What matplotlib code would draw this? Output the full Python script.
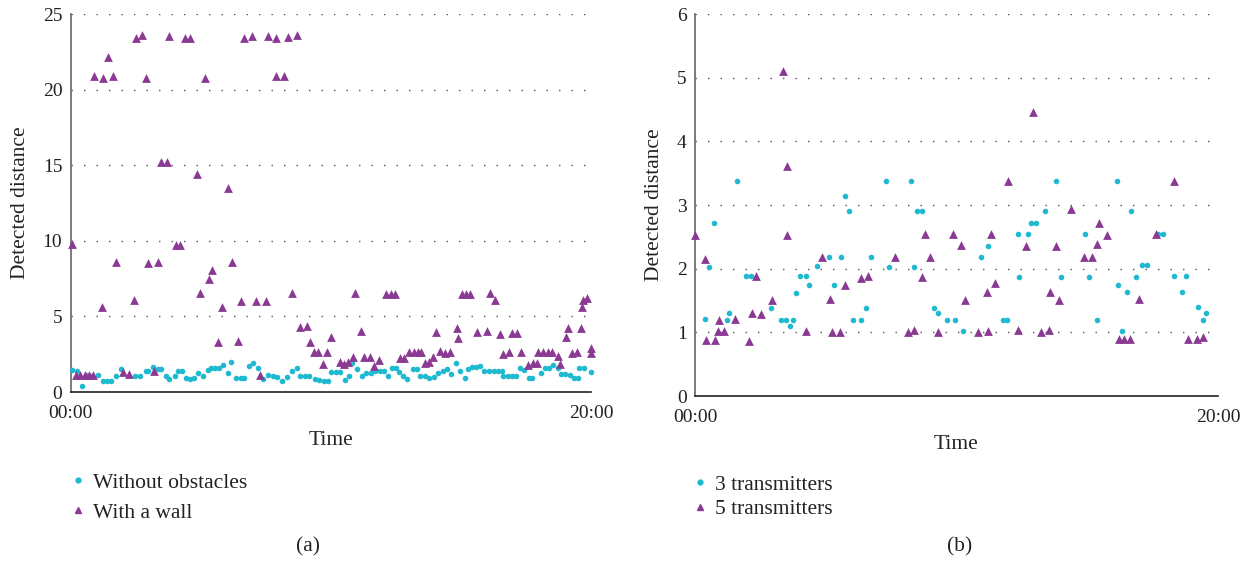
import matplotlib.pyplot as plt
from matplotlib.lines import Line2D

plt.rcParams['font.family'] = ['Liberation Serif', 'DejaVu Serif']

# ---- panel (a): time in minutes, detected distance
a_clear_t = [0.06, 0.23, 0.42, 0.6, 0.8, 1.04, 1.25, 1.38, 1.55, 1.73, 1.92, 2.47, 2.66, 2.88,
             2.98, 3.17, 3.36, 3.49, 3.66, 3.79, 4.0, 4.13, 4.26, 4.43, 4.58, 4.75, 4.9, 5.09,
             5.26, 5.41, 5.54, 5.7, 5.86, 6.05, 6.18, 6.37, 6.53, 6.66, 6.86, 7.01, 7.2, 7.39,
             7.58, 7.78, 7.94, 8.12, 8.33, 8.51, 8.7, 8.8, 8.99, 9.16, 9.38, 9.54, 9.73, 9.9,
             10.02, 10.21, 10.34, 10.53, 10.7, 10.83, 11.02, 11.19, 11.36, 11.53, 11.7, 11.87,
             12.03, 12.19, 12.35, 12.51, 12.6, 12.77, 12.94, 13.15, 13.31, 13.44, 13.6, 13.77,
             13.95, 14.11, 14.3, 14.46, 14.63, 14.79, 14.97, 15.14, 15.26, 15.43, 15.59, 15.74,
             15.9, 16.07, 16.25, 16.42, 16.58, 16.63, 16.8, 16.97, 17.12, 17.27, 17.41, 17.6,
             17.73, 18.08, 18.21, 18.37, 18.53, 18.72, 18.85, 19.01, 19.17, 19.36, 19.51, 19.55,
             19.74, 20.0]
a_clear_d = [1.46, 1.39, 0.42, 1.1, 1.05, 1.13, 0.73, 0.73, 0.73, 1.08, 1.5, 1.08, 1.08, 1.39,
             1.39, 1.63, 1.52, 1.52, 1.08, 0.86, 1.08, 1.37, 1.37, 0.93, 0.84, 0.93, 1.24, 1.08,
             1.46, 1.57, 1.61, 1.61, 1.79, 1.24, 1.97, 0.93, 0.93, 0.93, 1.72, 1.9, 1.61, 0.86,
             1.13, 1.06, 0.97, 0.73, 0.97, 1.39, 1.61, 1.08, 1.08, 1.08, 0.84, 0.79, 0.73, 0.73,
             1.34, 1.34, 1.34, 0.79, 1.08, 1.9, 1.5, 1.06, 1.24, 1.24, 1.39, 1.39,
             1.39, 1.06, 1.61, 1.61, 1.34, 1.08, 0.86, 1.5, 1.5, 1.08, 1.08, 0.91,
             1.01, 1.24, 1.39, 1.5, 1.17, 1.94, 1.41, 0.95, 1.5, 1.63, 1.63, 1.72,
             1.41, 1.4, 1.4, 1.4, 1.4, 1.05, 1.05, 1.05, 1.05, 1.61, 1.46, 0.95,
             0.95, 1.24, 1.57, 1.61, 1.79, 1.57, 1.19, 1.17, 1.13, 0.95, 0.91, 1.61,
             1.61, 1.34]

a_wall_t = [0.06, 0.2, 0.36, 0.55, 0.72, 0.87, 0.89, 1.19, 1.23, 1.44, 1.61, 1.74, 2.02, 2.24,
            2.43, 2.53, 2.73, 2.89, 2.98, 3.2, 3.34, 3.49, 3.71, 3.78, 4.03, 4.22, 4.39, 4.58,
            4.84, 4.96, 5.16, 5.3, 5.45, 5.67, 5.83, 6.05, 6.2, 6.43, 6.53, 6.66, 6.96, 7.14,
            7.27, 7.49, 7.59, 7.88, 7.91, 8.21, 8.35, 8.5, 8.69, 8.8, 9.07, 9.19, 9.35, 9.5,
            9.7, 9.84, 10.02, 10.34, 10.49, 10.66, 10.85, 10.94, 11.17, 11.27, 11.52, 11.66,
            11.84, 12.13, 12.3, 12.48, 12.64, 12.8, 12.99, 13.18, 13.34, 13.47, 13.6, 13.76,
            13.92, 14.05, 14.2, 14.37, 14.59, 14.86, 14.88, 15.03, 15.2, 15.33, 15.61, 16.01,
            16.1, 16.31, 16.48, 16.63, 16.83, 16.95, 17.16, 17.31, 17.57, 17.76, 17.91, 17.95,
            18.14, 18.33, 18.49, 18.74, 18.81, 19.04, 19.1, 19.25, 19.45, 19.62, 19.64, 19.68,
            19.83, 20.0, 20.0]
a_wall_d = [9.8, 1.1, 1.1, 1.1, 1.1, 1.1, 20.9, 5.65, 20.8, 22.2, 20.9, 8.63, 1.34, 1.17,
            6.09, 23.46, 23.6, 20.8, 8.56, 1.41, 8.63, 15.25, 15.25, 23.58, 9.73, 9.73, 23.4, 23.4,
            14.4, 6.54, 20.8, 7.48, 8.08, 3.29, 5.65, 13.5, 8.63, 3.38, 6.05, 23.4, 23.58, 6.05,
            1.13, 6.05, 23.58, 20.9, 23.4, 20.9, 23.5, 6.54, 23.6, 4.28, 4.37, 3.29, 2.63, 2.63,
            1.85, 2.67, 3.66, 2.0, 1.85, 2.0, 2.3, 6.54, 4.06, 2.34, 2.34, 1.72,
            2.12, 6.5, 6.5, 6.5, 2.23, 2.27, 2.67, 2.67, 2.67, 2.67, 1.94, 2.0,
            2.3, 3.95, 2.72, 2.56, 2.63, 4.22, 3.6, 6.5, 6.5, 6.5, 3.99, 4.06,
            6.58, 6.09, 3.84, 2.52, 2.67, 3.93, 3.93, 2.67, 1.79, 1.94, 1.9, 2.67,
            2.67, 2.67, 2.67, 2.38, 1.85, 3.66, 4.26, 2.56, 2.67, 4.26, 5.61, 6.09,
            6.2, 2.94, 2.56]

# ---- panel (b)
b_three_t = [0.38, 0.52, 0.74, 1.21, 1.31, 1.61, 1.94, 2.13, 2.92, 3.28, 3.47, 3.63, 3.75, 3.87,
             4.03, 4.24, 4.37, 4.67, 5.14, 5.32, 5.57, 5.74, 5.88, 6.03, 6.35, 6.53, 6.74, 7.3,
             7.42, 8.25, 8.37, 8.5, 8.67, 9.15, 9.3, 9.62, 9.94, 10.26, 10.95, 11.19, 11.77,
             11.93, 12.35, 12.38, 12.73, 12.85, 13.05, 13.38, 13.82, 14.0, 14.9, 15.07, 15.37,
             16.14, 16.19, 16.32, 16.53, 16.68, 16.85, 17.08, 17.28, 17.72, 17.9, 18.3, 18.63,
             18.78, 19.24, 19.43, 19.55]
b_three_d = [1.21, 2.03, 2.71, 1.19, 1.3, 3.38, 1.89, 1.89, 1.39, 1.19, 1.19, 1.1, 1.19, 1.62,
             1.88, 1.89, 1.74, 2.04, 2.19, 1.74, 2.19, 3.14, 2.91, 1.19, 1.19, 1.39, 2.19, 3.38,
             2.03, 3.38, 2.03, 2.91, 2.91, 1.39, 1.3, 1.19, 1.19, 1.02, 2.19, 2.35, 1.19,
             1.19, 2.54, 1.87, 2.54, 2.71, 2.72, 2.91, 3.37, 1.87, 2.54, 1.87, 1.19,
             3.37, 1.74, 1.02, 1.63, 2.91, 1.87, 2.05, 2.05, 2.54, 2.54, 1.89, 1.63,
             1.89, 1.4, 1.19, 1.3]

b_five_t = [0.0, 0.37, 0.43, 0.77, 0.89, 0.92, 1.12, 1.52, 2.07, 2.17, 2.32, 2.51, 2.96, 3.38,
            3.53, 3.53, 4.24, 4.84, 5.15, 5.23, 5.56, 5.74, 6.35, 6.6, 7.66, 8.16, 8.39, 8.68,
            8.78, 8.99, 9.29, 9.88, 10.17, 10.33, 10.82, 11.17, 11.2, 11.32, 11.48, 11.96,
            12.36, 12.65, 12.94, 13.22, 13.54, 13.58, 13.8, 13.92, 14.38, 14.88, 15.19, 15.39,
            15.45, 15.77, 16.21, 16.4, 16.63, 16.99, 17.63, 18.3, 18.86, 19.19, 19.42]
b_five_d = [2.53, 2.15, 0.88, 0.88, 1.02, 1.2, 1.02, 1.21, 0.87, 1.3, 1.88, 1.29, 1.51, 5.1,
            3.62, 2.53, 1.02, 2.19, 1.52, 1.01, 1.01, 1.74, 1.85, 1.88, 2.19, 1.01, 1.03, 1.87,
            2.55, 2.19, 1.01, 2.55, 2.37, 1.51, 1.01, 1.64, 1.02, 2.55, 1.77, 3.38,
            1.04, 2.35, 4.46, 1.01, 1.03, 1.63, 2.35, 1.51, 2.93, 2.19, 2.19, 2.38,
            2.72, 2.53, 0.89, 0.89, 0.89, 1.52, 2.54, 3.38, 0.9, 0.9, 0.92]

cyan = '#1fb9d0'
purple = '#8a3a93'
ink = '#222222'

fig = plt.figure(figsize=(12.55, 5.63), dpi=100)
ax1 = fig.add_axes([0.0563, 0.3037, 0.4147, 0.671])
ax2 = fig.add_axes([0.5538, 0.2966, 0.4167, 0.6785])


def style(ax, ymax, ystep):
    ax.set_xlim(0, 20)
    ax.set_ylim(0, ymax)
    ax.set_yticks(range(0, ymax + 1, ystep))
    ax.set_xticks([0, 20])
    ax.set_xticklabels(['00:00', '20:00'])
    ax.tick_params(length=0, labelsize=14, colors=ink)
    ax.tick_params(axis='y', pad=6)
    ax.tick_params(axis='x', pad=9)
    ax.yaxis.grid(True, linestyle=(0, (1, 8)), color='#555555', lw=1)
    ax.set_axisbelow(True)
    for s in ['top', 'right']:
        ax.spines[s].set_visible(False)
    ax.spines['left'].set_color('#666666')
    ax.spines['bottom'].set_color(ink)
    ax.spines['left'].set_linewidth(1.2)
    ax.spines['bottom'].set_linewidth(1.2)
    ax.set_xlabel('Time', fontsize=15.5, color=ink, labelpad=7)
    ax.set_ylabel('Detected distance', fontsize=15.5, color=ink, labelpad=9)


ax1.scatter(a_clear_t, a_clear_d, s=16, color=cyan, marker='o', lw=0, clip_on=False, zorder=3)
ax1.scatter(a_wall_t, a_wall_d, s=40, color=purple, marker='^', lw=0, clip_on=False, zorder=4)
style(ax1, 25, 5)

ax2.scatter(b_three_t, b_three_d, s=16, color=cyan, marker='o', lw=0, clip_on=False, zorder=3)
ax2.scatter(b_five_t, b_five_d, s=40, color=purple, marker='^', lw=0, clip_on=False, zorder=4)
style(ax2, 6, 1)


def legend(ax, labels, x, y, gap):
    h = [Line2D([], [], ls='none', marker='o', ms=3.5, color=cyan),
         Line2D([], [], ls='none', marker='^', ms=5, color=purple)]
    lg = ax.legend(h, labels, loc='upper left', bbox_to_anchor=(x, y),
                   bbox_transform=fig.transFigure, frameon=False, fontsize=15.5,
                   handlelength=0.8, handletextpad=0.3, labelspacing=gap, borderpad=0,
                   borderaxespad=0)
    for t in lg.get_texts():
        t.set_color(ink)


legend(ax1, ['Without obstacles', 'With a wall'], 0.055, 0.160, 0.45)
legend(ax2, ['3 transmitters', '5 transmitters'], 0.551, 0.157, 0.2)

fig.text(0.2454, 0.012, '(a)', ha='center', va='bottom', fontsize=15.5, color=ink)
fig.text(0.765, 0.012, '(b)', ha='center', va='bottom', fontsize=15.5, color=ink)

fig.savefig('out.png', dpi=100)
